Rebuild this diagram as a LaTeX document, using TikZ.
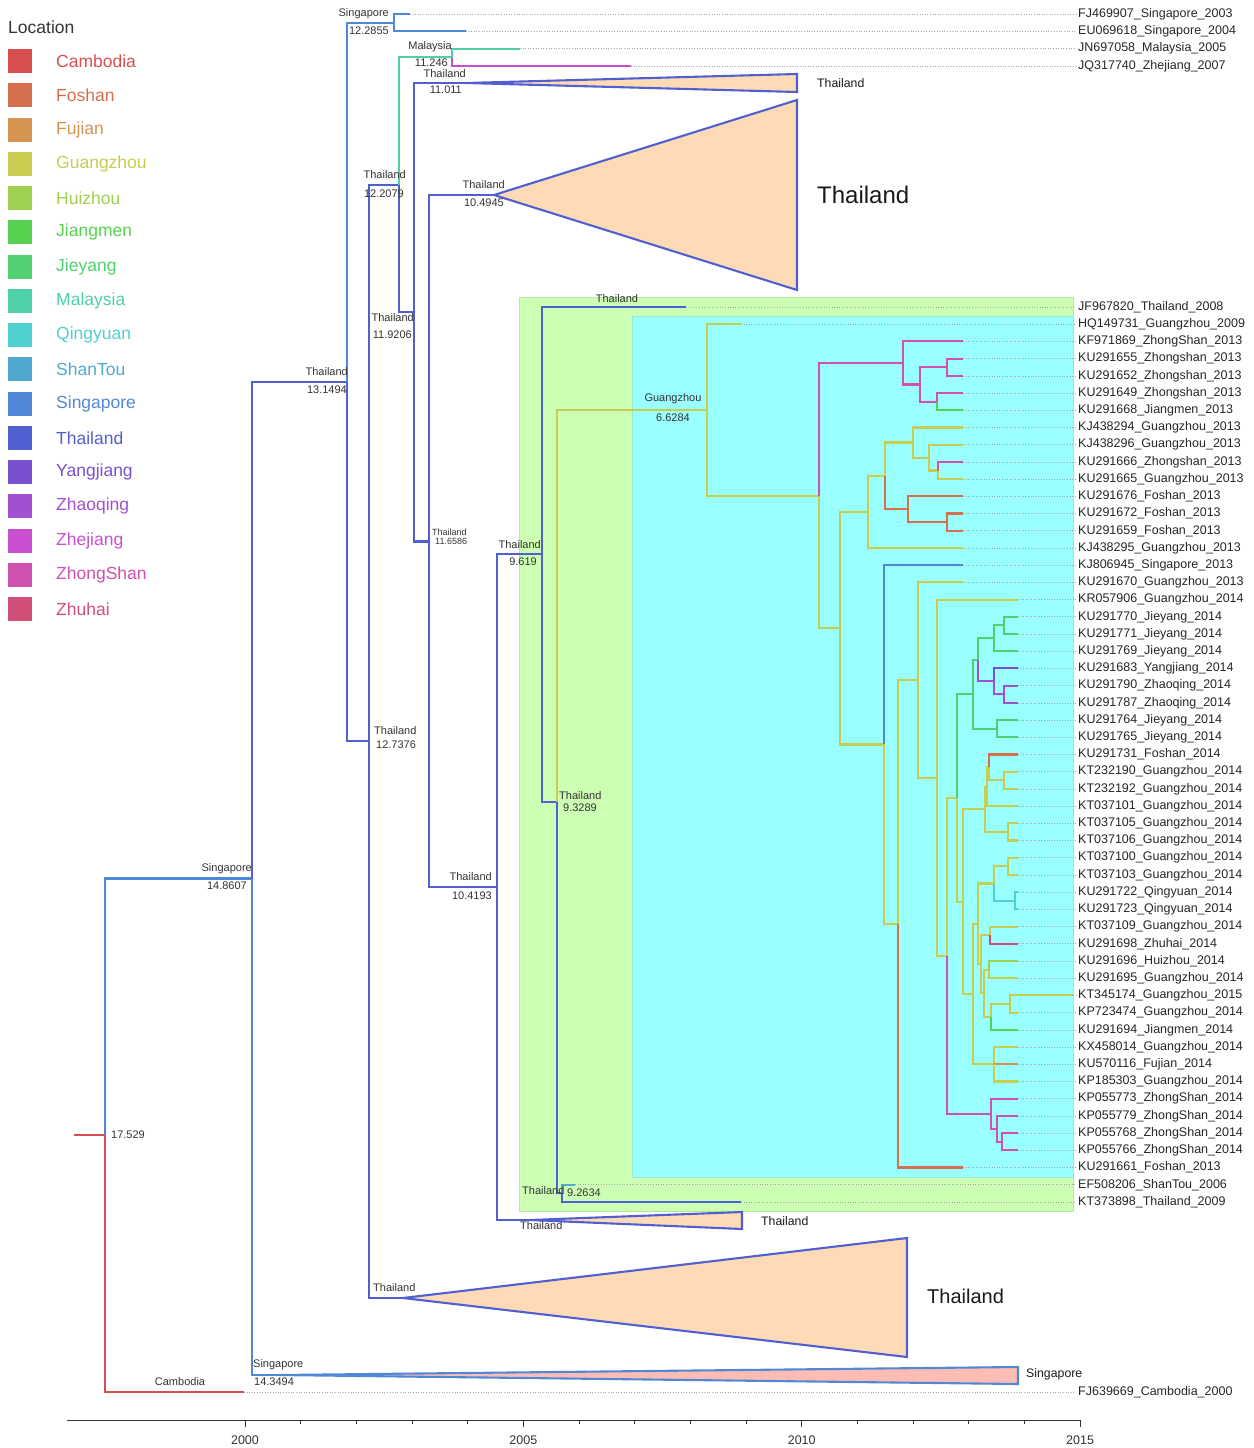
\documentclass[tikz,border=0pt]{standalone}
\usepackage{fontspec}
\setmainfont{Liberation Sans}
\usetikzlibrary{calc}
\definecolor{cCam}{RGB}{214,80,80}
\definecolor{cFos}{RGB}{212,112,80}
\definecolor{cFuj}{RGB}{212,148,80}
\definecolor{cGua}{RGB}{200,204,80}
\definecolor{cHui}{RGB}{160,208,80}
\definecolor{cJia}{RGB}{88,208,80}
\definecolor{cJie}{RGB}{80,208,112}
\definecolor{cMal}{RGB}{80,208,168}
\definecolor{cQin}{RGB}{80,208,208}
\definecolor{cSha}{RGB}{80,168,208}
\definecolor{cSin}{RGB}{80,136,216}
\definecolor{cTha}{RGB}{80,96,208}
\definecolor{cYan}{RGB}{120,80,208}
\definecolor{cZha}{RGB}{160,80,208}
\definecolor{cZhe}{RGB}{200,80,208}
\definecolor{cZho}{RGB}{208,80,176}
\definecolor{cZhu}{RGB}{208,80,120}
\definecolor{peach}{RGB}{255,218,182}
\definecolor{pinkS}{RGB}{255,188,180}
\definecolor{greenbg}{RGB}{204,255,179}
\definecolor{greenbd}{RGB}{180,232,160}
\definecolor{cyanbg}{RGB}{153,255,255}
\definecolor{cyanbd}{RGB}{150,235,210}
\newcommand\tipx[6]{%
  \coordinate (#1) at (#2,#3);
  \node[tiplab] (#1L) at (1076,#3) {#6};
  \draw[dotl] (#1) -- (#1L.west);
  \draw[br,#4] (#5) |- (#1);}
\begin{document}
\begin{tikzpicture}[x=1pt,y=-1pt,
  br/.style={line width=2.1pt,line join=miter},
  dotl/.style={black!35,line width=0.6pt,dotted},
  tiplab/.style={anchor=west,inner sep=2pt,font=\fontsize{12.5}{13}\selectfont,text=black!85},
  nl/.style={inner sep=0pt,font=\fontsize{11}{12}\selectfont,text=black!80},
  nls/.style={inner sep=0pt,font=\fontsize{9}{10}\selectfont,text=black!80},
  cl/.style={inner sep=0pt,anchor=west,text=black!90},
  tri/.style={line width=2.1pt,draw=cTha,fill=peach,line join=miter},
  leg/.style={anchor=west,inner sep=0pt,font=\fontsize{17.5}{19}\selectfont}]
\useasboundingbox (0,0) rectangle (1253,1448);
% backgrounds
\filldraw[fill=greenbg,draw=greenbd,line width=1pt] (519,297) rectangle (1073,1211);
\filldraw[fill=cyanbg,draw=cyanbd,line width=1pt] (632,316) rectangle (1073,1177);
% legend
\node[leg,text=black!80] (loc) at (8,27) {Location};
\foreach \c/\n [count=\i from 0] in {cCam/Cambodia,cFos/Foshan,cFuj/Fujian,cGua/Guangzhou,cHui/Huizhou,cJia/Jiangmen,cJie/Jieyang,cMal/Malaysia,cQin/Qingyuan,cSha/ShanTou,cSin/Singapore,cTha/Thailand,cYan/Yangjiang,cZha/Zhaoqing,cZhe/Zhejiang,cZho/ZhongShan,cZhu/Zhuhai}{
  \fill[\c] (8,{49+34.25*\i}) rectangle ++(24,24);
  \node[leg,text=\c] (leg\i) at (56,{61+34.25*\i}) {\n};}
% outer coordinates
\coordinate (rootstub) at (74,1135);
\coordinate (root) at (105,1135);
\coordinate (S14) at (252,878.5);
\coordinate (Sing) at (279,1375);
\coordinate (T13) at (347,382);
\coordinate (Sg) at (394,22.8);
\coordinate (T127) at (369,741.3);
\coordinate (T122) at (399,184.6);
\coordinate (Ma) at (452,57.2);
\coordinate (T119) at (414,312);
\coordinate (T110) at (466,83);
\coordinate (T116) at (429,541.5);
\coordinate (T104) at (494,195);
\coordinate (T1041) at (497,887.2);
\coordinate (triS) at (530,1220);
\coordinate (triB) at (403,1298);
% clade in row units
\begin{scope}[yshift=-307pt,y=-17.21pt]
\coordinate (T9619) at (542,14.37);
\coordinate (T9329) at (557,28.74);
\coordinate (T9263) at (562,51.5);
\coordinate (Gz) at (707,5.98);
\coordinate (A) at (819,10.96);
\coordinate (B) at (903,3.25);
\coordinate (D) at (920,4.5);
\coordinate (D1) at (947,3.5);
\coordinate (D2) at (937,5.5);
\coordinate (C) at (840,18.66);
\coordinate (E) at (868,11.906);
\coordinate (E1) at (885,9.8125);
\coordinate (E2) at (913,7.875);
\coordinate (E4) at (929,8.75);
\coordinate (E5) at (938,9.5);
\coordinate (E3) at (908,11.75);
\coordinate (E6) at (947,12.5);
\coordinate (F) at (884,25.42);
\coordinate (G) at (898,35.84);
\coordinate (H) at (918,21.68);
\coordinate (I) at (937,27.35);
\coordinate (J) at (947,37.70);
\coordinate (K) at (957,28.53);
\coordinate (L) at (973,22.5);
\coordinate (N) at (978,20.5);
\coordinate (N1) at (994,19.25);
\coordinate (N3) at (1004,18.5);
\coordinate (N2) at (994,21.75);
\coordinate (N4) at (1004,22.5);
\coordinate (L2) at (997,24.5);
\coordinate (M) at (963,34.55);
\coordinate (P) at (985,29.19);
\coordinate (Q2) at (987,27.875);
\coordinate (Q1) at (989,26.75);
\coordinate (Q5) at (1004,27.5);
\coordinate (Q4) at (1008,30.5);
\coordinate (R) at (973,39.92);
\coordinate (U) at (978,35.84);
\coordinate (T) at (994,33.5);
\coordinate (T1) at (1008,32.5);
\coordinate (T2) at (1015,34.5);
\coordinate (Wp) at (981,38.19);
\coordinate (V) at (990,36.5);
\coordinate (W) at (984,39.875);
\coordinate (X) at (989,38.5);
\coordinate (Y) at (991,41.25);
\coordinate (Y1) at (1010,40.5);
\coordinate (S) at (994,44);
\coordinate (Z) at (991,46.875);
\coordinate (Z2) at (997,47.75);
\coordinate (Z3) at (1002,48.5);
% internal branches
\draw[br,cTha] (T9619) |- (T9329);
\draw[br,cGua] (T9329) |- (Gz);
\draw[br,cTha] (T9329) |- (T9263);
\draw[br,cGua] (Gz) |- (A);
\draw[br,cZho] (A) |- (B);
\draw[br,cGua] (A) |- (C);
\draw[br,cZho] (B) |- (D);
\draw[br,cZho] (D) |- (D1);
\draw[br,cZho] (D) |- (D2);
\draw[br,cGua] (C) |- (E);
\draw[br,cGua] (C) |- (F);
\draw[br,cGua] (E) |- (E1);
\draw[br,cGua] (E1) |- (E2);
\draw[br,cFos] (E1) |- (E3);
\draw[br,cGua] (E2) |- (E4);
\draw[br,cGua] (E4) |- (E5);
\draw[br,cFos] (E3) |- (E6);
\draw[br,cGua] (F) |- (G);
\draw[br,cGua] (G) |- (H);
\draw[br,cGua] (H) |- (I);
\draw[br,cGua] (I) |- (J);
\draw[br,cGua] (J) |- (K);
\draw[br,cZho] (J) |- (Z);
\draw[br,cJie] (K) |- (L);
\draw[br,cGua] (K) |- (M);
\draw[br,cJie] (L) |- (N);
\draw[br,cJie] (L) |- (L2);
\draw[br,cJie] (N) |- (N1);
\draw[br,cZha] (N) |- (N2);
\draw[br,cJie] (N1) |- (N3);
\draw[br,cZha] (N2) |- (N4);
\draw[br,cGua] (M) |- (P);
\draw[br,cGua] (M) |- (R);
\draw[br,cGua] (P) |- (Q2);
\draw[br,cGua] (P) |- (Q4);
\draw[br,cGua] (Q2) |- (Q1);
\draw[br,cGua] (Q1) |- (Q5);
\draw[br,cGua] (R) |- (U);
\draw[br,cGua] (R) |- (S);
\draw[br,cGua] (U) |- (T);
\draw[br,cGua] (U) |- (Wp);
\draw[br,cGua] (T) |- (T1);
\draw[br,cQin] (T) |- (T2);
\draw[br,cGua] (Wp) |- (V);
\draw[br,cGua] (Wp) |- (W);
\draw[br,cGua] (W) |- (X);
\draw[br,cGua] (W) |- (Y);
\draw[br,cGua] (Y) |- (Y1);
\draw[br,cZho] (Z) |- (Z2);
\draw[br,cZho] (Z2) |- (Z3);
% tips
\tipx{k0}{686}{0}{cTha}{T9619}{JF967820\_Thailand\_2008}
\tipx{k1}{741}{1}{cGua}{Gz}{HQ149731\_Guangzhou\_2009}
\tipx{k2}{963}{2}{cZho}{B}{KF971869\_ZhongShan\_2013}
\tipx{k3}{963}{3}{cZho}{D1}{KU291655\_Zhongshan\_2013}
\tipx{k4}{963}{4}{cZho}{D1}{KU291652\_Zhongshan\_2013}
\tipx{k5}{963}{5}{cZho}{D2}{KU291649\_Zhongshan\_2013}
\tipx{k6}{963}{6}{cJia}{D2}{KU291668\_Jiangmen\_2013}
\tipx{k7}{963}{7}{cGua}{E2}{KJ438294\_Guangzhou\_2013}
\tipx{k8}{963}{8}{cGua}{E4}{KJ438296\_Guangzhou\_2013}
\tipx{k9}{963}{9}{cZho}{E5}{KU291666\_Zhongshan\_2013}
\tipx{k10}{963}{10}{cGua}{E5}{KU291665\_Guangzhou\_2013}
\tipx{k11}{963}{11}{cFos}{E3}{KU291676\_Foshan\_2013}
\tipx{k12}{963}{12}{cFos}{E6}{KU291672\_Foshan\_2013}
\tipx{k13}{963}{13}{cFos}{E6}{KU291659\_Foshan\_2013}
\tipx{k14}{963}{14}{cGua}{E}{KJ438295\_Guangzhou\_2013}
\tipx{k15}{963}{15}{cSin}{F}{KJ806945\_Singapore\_2013}
\tipx{k16}{963}{16}{cGua}{H}{KU291670\_Guangzhou\_2013}
\tipx{k17}{1018}{17}{cGua}{I}{KR057906\_Guangzhou\_2014}
\tipx{k18}{1018}{18}{cJie}{N3}{KU291770\_Jieyang\_2014}
\tipx{k19}{1018}{19}{cJie}{N3}{KU291771\_Jieyang\_2014}
\tipx{k20}{1018}{20}{cJie}{N1}{KU291769\_Jieyang\_2014}
\tipx{k21}{1018}{21}{cYan}{N2}{KU291683\_Yangjiang\_2014}
\tipx{k22}{1018}{22}{cZha}{N4}{KU291790\_Zhaoqing\_2014}
\tipx{k23}{1018}{23}{cZha}{N4}{KU291787\_Zhaoqing\_2014}
\tipx{k24}{1018}{24}{cJie}{L2}{KU291764\_Jieyang\_2014}
\tipx{k25}{1018}{25}{cJie}{L2}{KU291765\_Jieyang\_2014}
\tipx{k26}{1018}{26}{cFos}{Q1}{KU291731\_Foshan\_2014}
\tipx{k27}{1018}{27}{cGua}{Q5}{KT232190\_Guangzhou\_2014}
\tipx{k28}{1018}{28}{cGua}{Q5}{KT232192\_Guangzhou\_2014}
\tipx{k29}{1018}{29}{cGua}{Q2}{KT037101\_Guangzhou\_2014}
\tipx{k30}{1018}{30}{cGua}{Q4}{KT037105\_Guangzhou\_2014}
\tipx{k31}{1018}{31}{cGua}{Q4}{KT037106\_Guangzhou\_2014}
\tipx{k32}{1018}{32}{cGua}{T1}{KT037100\_Guangzhou\_2014}
\tipx{k33}{1018}{33}{cGua}{T1}{KT037103\_Guangzhou\_2014}
\tipx{k34}{1018}{34}{cQin}{T2}{KU291722\_Qingyuan\_2014}
\tipx{k35}{1018}{35}{cQin}{T2}{KU291723\_Qingyuan\_2014}
\tipx{k36}{1018}{36}{cGua}{V}{KT037109\_Guangzhou\_2014}
\tipx{k37}{1018}{37}{cZhu}{V}{KU291698\_Zhuhai\_2014}
\tipx{k38}{1018}{38}{cHui}{X}{KU291696\_Huizhou\_2014}
\tipx{k39}{1018}{39}{cGua}{X}{KU291695\_Guangzhou\_2014}
\tipx{k40}{1073}{40}{cGua}{Y1}{KT345174\_Guangzhou\_2015}
\tipx{k41}{1018}{41}{cGua}{Y1}{KP723474\_Guangzhou\_2014}
\tipx{k42}{1018}{42}{cJia}{Y}{KU291694\_Jiangmen\_2014}
\tipx{k43}{1018}{43}{cGua}{S}{KX458014\_Guangzhou\_2014}
\tipx{k44}{1018}{44}{cFuj}{S}{KU570116\_Fujian\_2014}
\tipx{k45}{1018}{45}{cGua}{S}{KP185303\_Guangzhou\_2014}
\tipx{k46}{1018}{46}{cZho}{Z}{KP055773\_ZhongShan\_2014}
\tipx{k47}{1018}{47}{cZho}{Z2}{KP055779\_ZhongShan\_2014}
\tipx{k48}{1018}{48}{cZho}{Z3}{KP055768\_ZhongShan\_2014}
\tipx{k49}{1018}{49}{cZho}{Z3}{KP055766\_ZhongShan\_2014}
\tipx{k50}{963}{50}{cFos}{G}{KU291661\_Foshan\_2013}
\tipx{k51}{575}{51}{cSha}{T9263}{EF508206\_ShanTou\_2006}
\tipx{k52}{741}{52}{cTha}{T9263}{KT373898\_Thailand\_2009}
\end{scope}
% outer tips
\tipx{t1}{410}{14.2}{cSin}{Sg}{FJ469907\_Singapore\_2003}
\tipx{t2}{466}{31.4}{cSin}{Sg}{EU069618\_Singapore\_2004}
\tipx{t3}{520}{48.6}{cMal}{Ma}{JN697058\_Malaysia\_2005}
\tipx{t4}{631}{65.8}{cZhe}{Ma}{JQ317740\_Zhejiang\_2007}
\tipx{cam}{244}{1392}{cCam}{root}{FJ639669\_Cambodia\_2000}
% outer branches
\draw[br,cCam] (rootstub) -- (root);
\draw[br,cSin] (root) |- (S14);
\draw[br,cTha] (S14) |- (T13);
\draw[br,cSin] (S14) |- (Sing);
\draw[br,cSin] (T13) |- (Sg);
\draw[br,cTha] (T13) |- (T127);
\draw[br,cTha] (T127) |- (T122);
\draw[br,cTha] (T127) |- (triB);
\draw[br,cMal] (T122) |- (Ma);
\draw[br,cTha] (T122) |- (T119);
\draw[br,cTha] (T119) |- (T110);
\draw[br,cTha] (T119) |- (T116);
\draw[br,cTha] (T116) |- (T104);
\draw[br,cTha] (T116) |- (T1041);
\draw[br,cTha] (T1041) |- (T9619);
\draw[br,cTha] (T1041) |- (triS);
% collapsed clades
\filldraw[tri] (T110) -- (797,74) -- (797,92) -- cycle;
\filldraw[tri] (T104) -- (797,100) -- (797,290) -- cycle;
\filldraw[tri] (triS) -- (742,1212) -- (742,1229) -- cycle;
\filldraw[tri] (triB) -- (907,1238) -- (907,1357) -- cycle;
\filldraw[tri,draw=cSin,fill=pinkS] (Sing) -- (1018,1367) -- (1018,1384) -- cycle;
\node[cl,font=\fontsize{12.3}{13}\selectfont] (c1) at (817,83) {Thailand};
\node[cl,font=\fontsize{24}{26}\selectfont] (c2) at (817,195) {Thailand};
\node[cl,font=\fontsize{12.3}{13}\selectfont] (c3) at (761,1221) {Thailand};
\node[cl,font=\fontsize{20}{22}\selectfont] (c4) at (927,1296) {Thailand};
\node[cl,font=\fontsize{12.3}{13}\selectfont] (c5) at (1026,1374) {Singapore};
% node labels
\node[nl,anchor=east] (l1a) at (389,14) {Singapore};
\node[nl,anchor=east] (l1b) at (389,31) {12.2855};
\node[nl,anchor=east] (l2a) at (452,47) {Malaysia};
\node[nl,anchor=east] (l2b) at (448,63) {11.246};
\node[nl,anchor=east] (l3a) at (466,74) {Thailand};
\node[nl,anchor=east] (l3b) at (462,90) {11.011};
\node[nl,anchor=east] (l4a) at (406,175) {Thailand};
\node[nl,anchor=east] (l4b) at (404,194) {12.2079};
\node[nl,anchor=east] (l5a) at (505,185) {Thailand};
\node[nl,anchor=east] (l5b) at (504,203) {10.4945};
\node[nl,anchor=east] (l6a) at (414,318) {Thailand};
\node[nl,anchor=east] (l6b) at (412,335) {11.9206};
\node[nl,anchor=east] (l7a) at (348,372) {Thailand};
\node[nl,anchor=east] (l7b) at (347,390) {13.1494};
\node[nls,anchor=west] (l8a) at (432,532) {Thailand};
\node[nls,anchor=west] (l8b) at (435,541) {11.6586};
\node[nl,anchor=east] (l9a) at (541,545) {Thailand};
\node[nl,anchor=east] (l9b) at (537,562) {9.619};
\node[nl] (l10) at (617,299) {Thailand};
\node[nl] (l11a) at (673,399) {Guangzhou};
\node[nl] (l11b) at (673,418) {6.6284};
\node[nl,anchor=west] (l12a) at (374,731) {Thailand};
\node[nl,anchor=west] (l12b) at (376,745) {12.7376};
\node[nl,anchor=west] (l13a) at (559,796) {Thailand};
\node[nl,anchor=west] (l13b) at (563,808) {9.3289};
\node[nl,anchor=east] (l14a) at (252,869) {Singapore};
\node[nl,anchor=east] (l14b) at (247,886) {14.8607};
\node[nl,anchor=east] (l15a) at (492,877) {Thailand};
\node[nl,anchor=east] (l15b) at (492,896) {10.4193};
\node[nl,anchor=west] (l16a) at (522,1191) {Thailand};
\node[nl,anchor=west] (l16b) at (567,1193) {9.2634};
\node[nl,anchor=west] (l17) at (520,1226) {Thailand};
\node[nl,anchor=west] (l18) at (373,1288) {Thailand};
\node[nl,anchor=west] (l19a) at (253,1365) {Singapore};
\node[nl,anchor=west] (l19b) at (254,1382) {14.3494};
\node[nl] (l20) at (180,1382) {Cambodia};
\node[nl,anchor=west] (l21) at (111,1135) {17.529};
% axis
\draw[line width=1pt,black!80] (67,1420) -- (1080,1420);
\foreach \yr in {0,...,15} \draw[line width=0.9pt,black!80] (245+55.67*\yr,1420) -- ++(0,4);
\foreach \yr/\lab in {0/2000,5/2005,10/2010,15/2015}{
  \draw[line width=1pt,black!80] (245+55.67*\yr,1420) -- ++(0,7);
  \node[font=\fontsize{12.5}{13}\selectfont,text=black!80,inner sep=0pt] (ax\lab) at (245+55.67*\yr,1440) {\lab};}
\end{tikzpicture}
\end{document}
